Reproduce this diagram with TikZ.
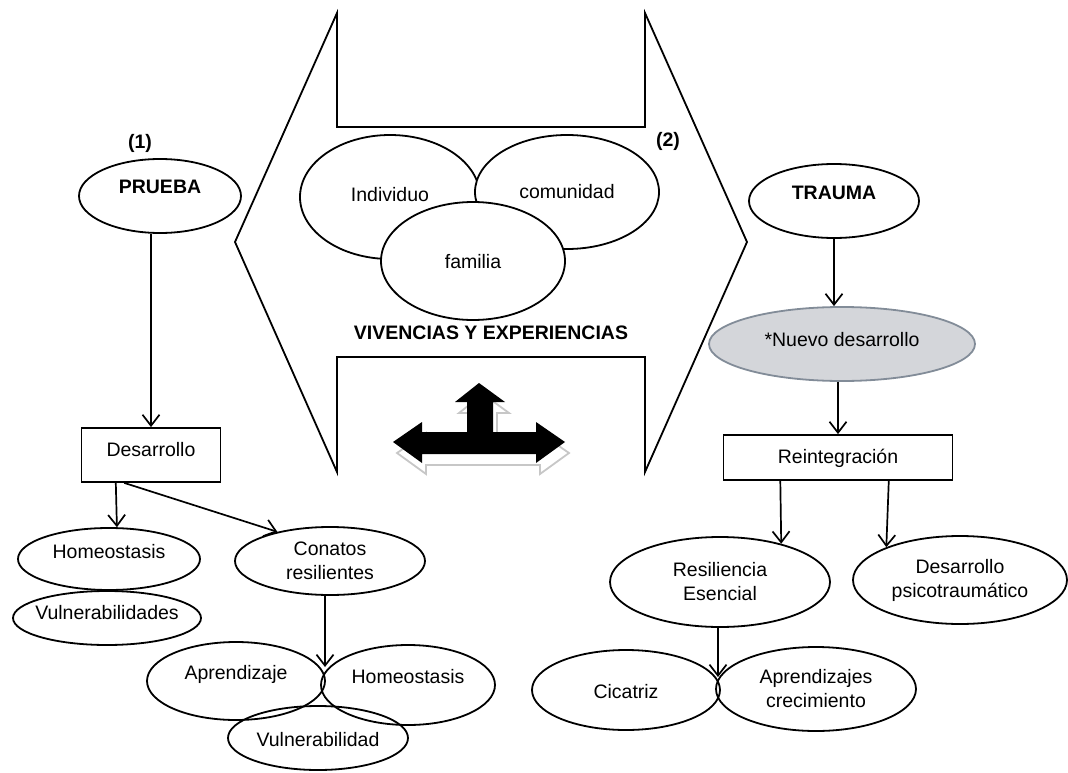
\documentclass[tikz,border=0pt]{standalone}
\usepackage{fontspec}
\setmainfont{Liberation Sans}
\usetikzlibrary{arrows.meta,shapes.geometric,calc}
\newcommand\myarrowpath{(393,442) -- (422,422) -- (422,432) -- (467,432) -- (467,402) -- (455,402) -- (479,383) -- (505,402) -- (493,402) -- (493,432) -- (536,432) -- (536,422) -- (565,442) -- (536,463) -- (536,454) -- (422,454) -- (422,463) -- cycle}
\begin{document}
\begin{tikzpicture}[x=1pt,y=-1pt,
  every node/.style={font=\fontsize{19.5}{24}\selectfont},
  bold/.style={font=\fontsize{19.5}{24}\selectfont\bfseries},
  ln/.style={line width=1.8pt},
  ell/.style={ellipse,draw,line width=1.8pt,inner xsep=-80pt,inner ysep=-40pt,text height=12pt,text depth=0pt},
  ell2/.style={ellipse,draw,line width=1.8pt,inner xsep=-80pt,inner ysep=-40pt,align=center},
  boxn/.style={rectangle,draw,line width=1.8pt,inner sep=0pt,text height=12pt,text depth=0pt},
  arr/.style={line width=1.7pt,-{Straight Barb[length=11pt,width=17pt]}},
  greyfill/.style={fill={rgb,255:red,212;green,214;blue,218},draw={rgb,255:red,130;green,140;blue,152}}
]
\useasboundingbox (0,0) rectangle (1068,773);

% central frame
\draw[ln,line join=miter] (337,13) -- (337,127) -- (645,127) -- (645,13) -- (747,242) -- (645,472) -- (645,357) -- (337,357) -- (337,472) -- (235,242) -- cycle;

\node[ell,fill=white,minimum width=180,minimum height=124,text height=8pt] (indiv) at (390,197) {Individuo};
\node[ell,fill=white,minimum width=184,minimum height=114] (comun) at (567,192) {comunidad};
\node[ell,fill=white,minimum width=184,minimum height=118,text height=14pt] (famil) at (473,261) {familia};

\node[bold] (viv) at (491,333) {VIVENCIAS Y EXPERIENCIAS};

% big three-way arrow
\draw[line width=1.8pt,draw=black!22,fill=white,shift={(4,11)}] \myarrowpath;
\fill[black] \myarrowpath;

% left branch
\node[bold] (n1) at (140,143) {(1)};
\node[ell,bold,minimum width=162,minimum height=74,text height=0pt,text depth=4.4pt] (prueba) at (160,196) {PRUEBA};
\node[boxn,minimum width=139,minimum height=54,text height=2pt] (des) at (151,455) {Desarrollo};
\node[ell,minimum width=182,minimum height=62,text height=0pt,text depth=2pt] (homeo1) at (109,559) {Homeostasis};
\node[ell,minimum width=188,minimum height=54,text height=2pt] (vulns) at (107,618) {Vulnerabilidades};
\node[ell2,minimum width=190,minimum height=68] (conatos) at (330,561) {Conatos\\resilientes};
\node[ell,minimum width=178,minimum height=78,text height=0pt,text depth=4pt] (aprend) at (236,681) {Aprendizaje};
\node[ell,minimum width=174,minimum height=80,text height=0pt,text depth=4pt] (homeo2) at (408,685) {Homeostasis};
\node[ell,minimum width=180,minimum height=64,text height=16pt] (vulnb) at (318,738) {Vulnerabilidad};
\coordinate (j1) at (325,667);

\draw[arr] (prueba.south -| des.north) -- (des.north);
\draw[arr] ($(des.south west)!0.25!(des.south east)$) -- (homeo1.76);
\draw[arr] ($(des.south west)!0.31!(des.south east)$) -- (conatos.151);
\draw[arr] (conatos.south -| j1) -- (j1);

% right branch
\node[bold] (n2) at (668,141) {(2)};
\node[ell,bold,minimum width=170,minimum height=74,text height=0pt,text depth=2.4pt] (trauma) at (834,201) {TRAUMA};
\node[ell,greyfill,minimum width=266,minimum height=74,text height=4pt] (nuevo) at (842,344) {*Nuevo desarrollo};
\node[boxn,minimum width=229,minimum height=45] (reint) at (838,457.5) {Reintegración};
\node[ell2,minimum width=220,minimum height=90] (resil) at (720,582) {Resiliencia\\Esencial};
\node[ell2,minimum width=214,minimum height=88] (dpsico) at (960,580) {Desarrollo\\psicotraumático};
\node[ell,minimum width=188,minimum height=80,text height=16pt] (cicat) at (626,690) {Cicatriz};
\node[ell2,minimum width=200,minimum height=84] (aprendc) at (816,689) {Aprendizajes\\crecimiento};
\coordinate (j2) at (718,677);

\draw[arr] (trauma.south) -- (nuevo.north -| trauma.south);
\draw[arr] (nuevo.south -| reint.north) -- (reint.north);
\draw[arr] ($(reint.south west)!0.25!(reint.south east)$) -- (resil.32);
\draw[arr] ($(reint.south west)!0.72!(reint.south east)$) -- (dpsico.156);
\draw[arr] (resil.south -| j2) -- (j2);
\end{tikzpicture}
\end{document}
